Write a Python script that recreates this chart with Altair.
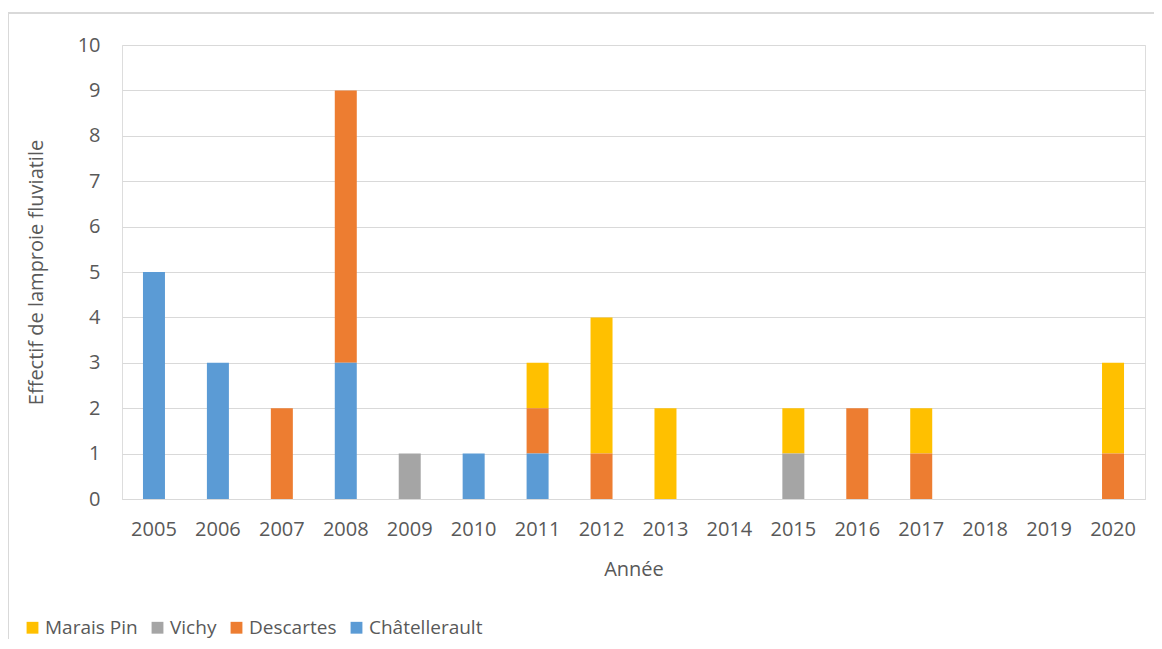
import altair as alt
import pandas as pd

years = [str(y) for y in range(2005, 2021)]
series = ["Marais Pin", "Vichy", "Descartes", "Châtellerault"]
colors = ["#FFC000", "#A5A5A5", "#ED7D31", "#5B9BD5"]
stack_order = {"Châtellerault": 0, "Descartes": 1, "Vichy": 2, "Marais Pin": 3}

chatellerault = [5, 3, 0, 3, 0, 1, 1, 0, 0, 0, 0, 0, 0, 0, 0, 0]
descartes =     [0, 0, 2, 6, 0, 0, 1, 1, 0, 0, 0, 2, 1, 0, 0, 1]
vichy =         [0, 0, 0, 0, 1, 0, 0, 0, 0, 0, 1, 0, 0, 0, 0, 0]
marais_pin =    [0, 0, 0, 0, 0, 0, 1, 3, 2, 0, 1, 0, 1, 0, 0, 2]

values = {"Marais Pin": marais_pin, "Vichy": vichy, "Descartes": descartes, "Châtellerault": chatellerault}
rows = []
for s in series:
    for y, v in zip(years, values[s]):
        rows.append({"Année": y, "Site": s, "Effectif": v, "ordre": stack_order[s]})
df = pd.DataFrame(rows)

FONT = "Open Sans"
GREY = "#595959"

bars = alt.Chart(df).mark_bar(size=22).encode(
    x=alt.X("Année:N", sort=years, scale=alt.Scale(domain=years),
            axis=alt.Axis(title="Année", labelAngle=0, labelFontSize=20, titleFontSize=20,
                          labelColor=GREY, titleColor=GREY, labelFont=FONT, titleFont=FONT,
                          titleFontWeight="normal", ticks=False, domainColor="#D9D9D9",
                          labelPadding=20, titlePadding=20)),
    y=alt.Y("Effectif:Q", stack="zero", scale=alt.Scale(domain=[0, 10]),
            axis=alt.Axis(title="Effectif de lamproie fluviatile", values=list(range(0, 11)),
                          labelFontSize=20, titleFontSize=20, labelColor=GREY, titleColor=GREY,
                          labelFont=FONT, titleFont=FONT, titleFontWeight="normal",
                          ticks=False, domain=False, gridColor="#D9D9D9", labelPadding=22,
                          titlePadding=31)),
    color=alt.Color("Site:N", scale=alt.Scale(domain=series, range=colors),
                    legend=alt.Legend(title=None, orient="none", direction="horizontal",
                                      legendX=-99, legendY=573, symbolType="square",
                                      symbolSize=140, symbolStrokeWidth=0, labelFontSize=19,
                                      labelFont=FONT, labelColor=GREY, columnPadding=10,
                                      labelOffset=3, symbolOpacity=1)),
    order=alt.Order("ordre:Q", sort="ascending"),
)

border_top = alt.Chart(df).mark_rule(color="#D9D9D9", strokeWidth=2).encode(
    x=alt.value(-114), x2=alt.value(1040), y=alt.value(-32))
border_left = alt.Chart(df).mark_rule(color="#D9D9D9", strokeWidth=2).encode(
    x=alt.value(-114), y=alt.value(-32), y2=alt.value(610))

chart = alt.layer(border_top, border_left, bars).properties(
    width=1023, height=454,
    autosize=alt.AutoSizeParams(type="none"),
    padding={"left": 114, "top": 37, "right": 9, "bottom": 140},
).configure_view(stroke=None).configure(background="white")

chart.save("out.html", embed_options={"renderer": "svg", "actions": False})
